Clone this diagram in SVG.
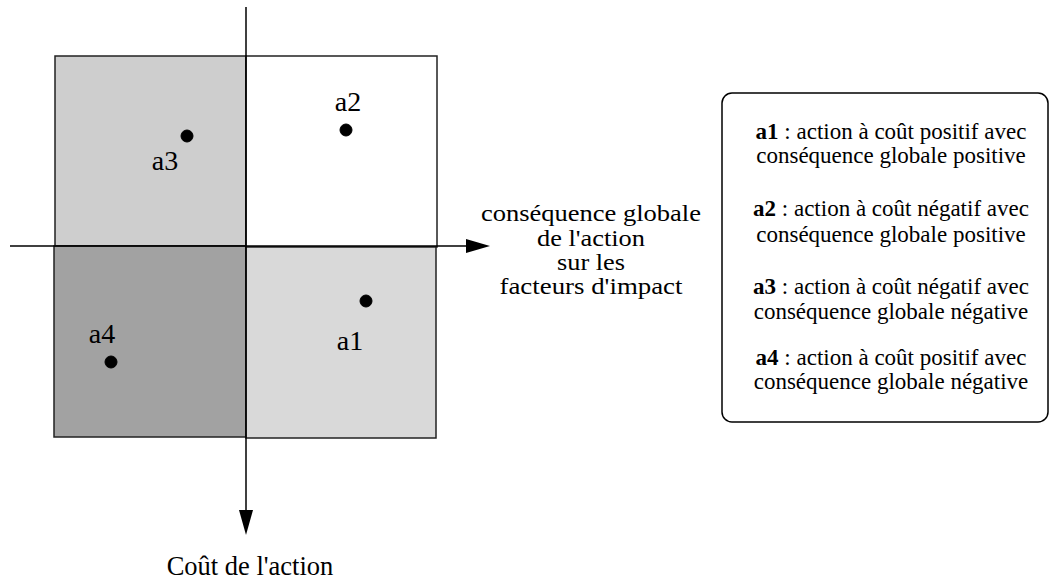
<svg xmlns="http://www.w3.org/2000/svg" width="1053" height="580" viewBox="0 0 1053 580">
<style>
text{font-family:"Liberation Serif","Times New Roman",serif;fill:#000}
.lbl{font-size:28px;text-anchor:middle}
.ax{font-size:26.5px;text-anchor:middle}
.axs{font-size:23px;text-anchor:middle}
.bx{font-size:23px;text-anchor:middle}
.q{stroke:#222;stroke-width:1.5}
.dot{fill:#000;stroke:#000;stroke-width:1}
.axis{stroke:#000;stroke-width:1.5;fill:none}
</style>
<rect width="1053" height="580" fill="#fff"/>
<g id="quadrants">
<rect id="q-a3" class="q" x="55" y="56" width="191" height="190" fill="#cecece"/>
<rect id="q-a2" class="q" x="246" y="56" width="191" height="191" fill="#ffffff"/>
<rect id="q-a4" class="q" x="54" y="246" width="192" height="191" fill="#a2a2a2"/>
<rect id="q-a1" class="q" x="246" y="247" width="190" height="191" fill="#d9d9d9"/>
</g>
<g id="connectors">
<line class="axis" x1="246" y1="7" x2="246" y2="512"/>
<polygon points="239,510 253,510 246,535" fill="#000"/>
<line class="axis" x1="10" y1="246" x2="468" y2="246"/>
<polygon points="466,239 466,253 490,246" fill="#000"/>
</g>
<g id="a1"><circle class="dot" cx="366" cy="301" r="6"/><text class="lbl" x="350" y="350">a1</text></g>
<g id="a2"><circle class="dot" cx="346" cy="130" r="6"/><text class="lbl" x="348" y="111">a2</text></g>
<g id="a3"><circle class="dot" cx="187" cy="136" r="6"/><text class="lbl" x="165" y="170">a3</text></g>
<g id="a4"><circle class="dot" cx="111" cy="362" r="6"/><text class="lbl" x="102" y="343">a4</text></g>
<g id="label-x">
<text class="axs" x="591" y="221" textLength="220" lengthAdjust="spacingAndGlyphs">conséquence globale</text>
<text class="axs" x="591" y="246" textLength="108" lengthAdjust="spacingAndGlyphs">de l'action</text>
<text class="axs" x="591" y="270" textLength="68" lengthAdjust="spacingAndGlyphs">sur les</text>
<text class="axs" x="591" y="294" textLength="183" lengthAdjust="spacingAndGlyphs">facteurs d'impact</text>
</g>
<g id="label-y"><text class="ax" x="250" y="575">Coût de l'action</text></g>
<g id="legend">
<rect x="722" y="93" width="326" height="329" rx="10" ry="10" fill="#fff" stroke="#000" stroke-width="1.5"/>
<text class="bx" x="891" y="139"><tspan font-weight="bold">a1</tspan> : action à coût positif avec</text>
<text class="bx" x="891" y="163">conséquence globale positive</text>
<text class="bx" x="891" y="216"><tspan font-weight="bold">a2</tspan> : action à coût négatif avec</text>
<text class="bx" x="891" y="242">conséquence globale positive</text>
<text class="bx" x="891" y="294"><tspan font-weight="bold">a3</tspan> : action à coût négatif avec</text>
<text class="bx" x="891" y="319">conséquence globale négative</text>
<text class="bx" x="891" y="365"><tspan font-weight="bold">a4</tspan> : action à coût positif avec</text>
<text class="bx" x="891" y="389">conséquence globale négative</text>
</g>
</svg>
